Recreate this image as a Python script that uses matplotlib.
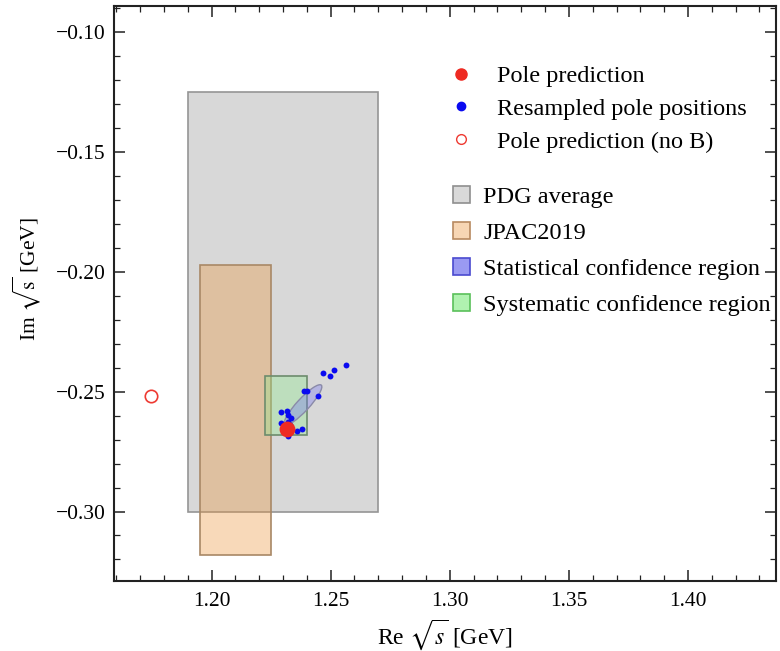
import matplotlib
matplotlib.use("Agg")
import matplotlib.pyplot as plt
from matplotlib.patches import Rectangle, Ellipse
from matplotlib.lines import Line2D
from matplotlib.ticker import MultipleLocator, FuncFormatter

plt.rcParams['font.family'] = ['Liberation Serif', 'DejaVu Serif']
plt.rcParams['mathtext.fontset'] = 'stix'

# Data
pole_re, pole_im = 1.2315, -0.2657
pole_noB_re, pole_noB_im = 1.1746, -0.2520
resampled_re = [1.2563, 1.2512, 1.2496, 1.2468, 1.2399, 1.2389, 1.2447, 1.2291,
                1.2315, 1.2321, 1.2333, 1.2291, 1.2323, 1.2319, 1.2357, 1.2378,
                1.2300, 1.2330]
resampled_im = [-0.2389, -0.2410, -0.2433, -0.2423, -0.2496, -0.2496, -0.2518, -0.2586,
                -0.2579, -0.2597, -0.2611, -0.2632, -0.2625, -0.2683, -0.2664, -0.2655,
                -0.2650, -0.2640]
pdg_re = [1.19, 1.27]
pdg_im = [-0.300, -0.125]
jpac_re = [1.195, 1.225]
jpac_im = [-0.318, -0.197]
syst_re = [1.2225, 1.240]
syst_im = [-0.268, -0.2435]
stat_center = (1.2384, -0.2555)
stat_axes = (0.0225, 0.0052)
stat_angle = 47

fig = plt.figure(figsize=(7.8, 6.51), dpi=100)
ax = fig.add_axes([0.146, 0.1075, 0.849, 0.8835])

ax.add_patch(Rectangle((pdg_re[0], pdg_im[0]), pdg_re[1]-pdg_re[0], pdg_im[1]-pdg_im[0],
                       facecolor='#d8d8d8', edgecolor='#959595', lw=1.2, zorder=1))
ax.add_patch(Rectangle((jpac_re[0], jpac_im[0]), jpac_re[1]-jpac_re[0], jpac_im[1]-jpac_im[0],
                       facecolor=(0.92, 0.58, 0.22, 0.35), edgecolor='#a88866', lw=1.2, zorder=2))
ax.add_patch(Rectangle((syst_re[0], syst_im[0]), syst_re[1]-syst_re[0], syst_im[1]-syst_im[0],
                       facecolor=(0.55, 0.92, 0.55, 0.35), edgecolor='#6d8c6d', lw=1.2, zorder=3))
ax.add_patch(Ellipse(stat_center, stat_axes[0], stat_axes[1], angle=stat_angle,
                     facecolor=(0.45, 0.45, 0.95, 0.35), edgecolor='#8a8aa8', lw=1.0, zorder=4))

ax.scatter(resampled_re, resampled_im, s=18, color='#0a0af0', zorder=5, linewidths=0)
ax.scatter([pole_re], [pole_im], s=130, color='#ee2a22', zorder=6, linewidths=0)
ax.scatter([pole_noB_re], [pole_noB_im], s=80, facecolor='white', edgecolor='#ee3a32',
           lw=1.2, zorder=6)

ax.set_xlim(1.159, 1.437)
ax.set_ylim(-0.329, -0.089)

ax.xaxis.set_major_locator(MultipleLocator(0.05))
ax.xaxis.set_minor_locator(MultipleLocator(0.01))
ax.yaxis.set_major_locator(MultipleLocator(0.05))
ax.yaxis.set_minor_locator(MultipleLocator(0.01))
fmt = FuncFormatter(lambda v, p: ("%.2f" % v).replace('-', '\u2212'))
ax.xaxis.set_major_formatter(fmt)
ax.yaxis.set_major_formatter(fmt)
ax.tick_params(which='both', direction='in', top=True, right=True, labelsize=15.5, color='#222222')
ax.tick_params(which='major', length=8, width=1.1)
ax.tick_params(which='minor', length=4, width=0.9)
ax.tick_params(axis='x', pad=8)
ax.tick_params(axis='y', pad=6)
for s in ax.spines.values():
    s.set_linewidth(1.5)
    s.set_color('#222222')

ax.set_xlabel(r'Re $\sqrt{s}$ [GeV]', fontsize=17, labelpad=4)
ax.set_ylabel(r'Im $\sqrt{\mathrm{s}}$ [GeV]', fontsize=15.5)
ax.yaxis.set_label_coords(-0.107, 0.525)

h1 = [Line2D([], [], ls='', marker='o', ms=8, color='#ee2a22', mec='#ee2a22'),
      Line2D([], [], ls='', marker='o', ms=6, color='#0a0af0', mec='#0a0af0'),
      Line2D([], [], ls='', marker='o', ms=7, mfc='white', mec='#ee3a32', mew=1.0)]
leg1 = ax.legend(h1, ['Pole prediction', 'Resampled pole positions', 'Pole prediction (no B)'],
                 loc='upper left', bbox_to_anchor=(0.488, 0.918), frameon=False, fontsize=17.5,
                 handletextpad=0.95, labelspacing=0.44, handlelength=1.0, borderpad=0)
ax.add_artist(leg1)
h2 = [Rectangle((0, 0), 1, 1, facecolor='#d9d9d9', edgecolor='#8f8f8f', lw=1.2),
      Rectangle((0, 0), 1, 1, facecolor='#f7d6b4', edgecolor='#b88a60', lw=1.2),
      Rectangle((0, 0), 1, 1, facecolor='#9a9af2', edgecolor='#4a4ad0', lw=1.2),
      Rectangle((0, 0), 1, 1, facecolor='#b0f2b0', edgecolor='#5ac05a', lw=1.2)]
ax.legend(h2, ['PDG average', 'JPAC2019', 'Statistical confidence region',
               'Systematic confidence region'],
          loc='upper left', bbox_to_anchor=(0.494, 0.708), frameon=False, fontsize=17.5,
          handletextpad=0.53, labelspacing=0.58, handlelength=0.7, handleheight=0.7,
          borderpad=0)

fig.savefig('out.png', dpi=100)
